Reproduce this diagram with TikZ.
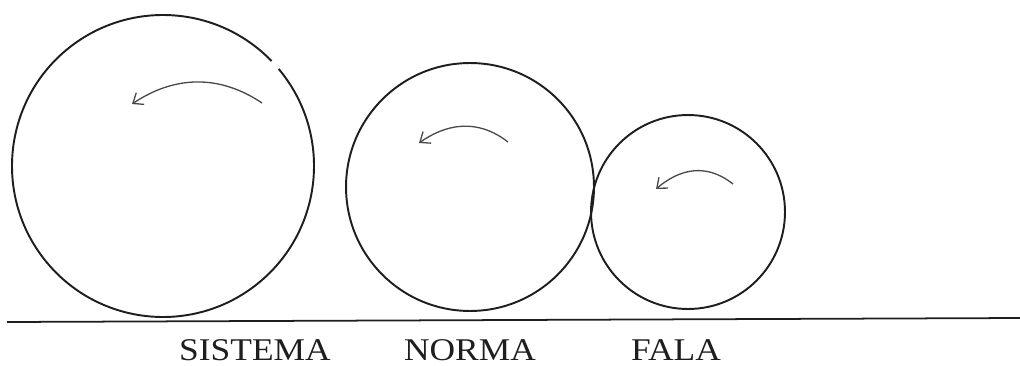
\documentclass[tikz,border=0pt]{standalone}
\usepackage{fontspec}
\setmainfont{Liberation Serif}
\usepackage{tikz}
\usetikzlibrary{positioning,arrows.meta}
\definecolor{inkGray}{HTML}{1E1E1E}
\definecolor{pencilGray}{HTML}{4A4A4A}

\begin{document}
\begin{tikzpicture}[
    x=0.02cm, y=-0.02cm,
    ringLine/.style={draw=inkGray, line width=1.1pt},
    ringNode/.style={circle, draw=inkGray, line width=1.1pt, inner sep=0pt},
    turnArrow/.style={-{Straight Barb[length=5pt, width=8pt]}, draw=pencilGray, line width=0.75pt},
    baseRule/.style={draw=inkGray, line width=1pt},
    labelFont/.style={font=\fontsize{18}{20}\selectfont, text=inkGray, xscale=1.12, anchor=base, inner sep=1pt}
]
    \useasboundingbox (0,0) rectangle (1020,365);

    % Sistema
    \coordinate (sistemaC) at (163,166);
    \draw[ringLine] (sistemaC) ++(-40:151) arc[start angle=-40, end angle=316, radius=151];
    \coordinate (sistemaA) at (262,103);
    \coordinate (sistemaB) at (132,104);
    \draw[turnArrow] (sistemaA) .. controls (225,78) and (180,72) .. (sistemaB);

    % Norma
    \node[ringNode, minimum size=4.96cm] (normaRing) at (470,187) {};
    \coordinate (normaA) at (508,142);
    \coordinate (normaB) at (419,143);
    \draw[turnArrow] (normaA) .. controls (485,124) and (455,118) .. (normaB);

    % Fala
    \node[ringNode, minimum size=3.88cm] (falaRing) at (688,212) {};
    \coordinate (falaA) at (733,184);
    \coordinate (falaB) at (656,189);
    \draw[turnArrow] (falaA) .. controls (714,169) and (688,162) .. (falaB);

    % Linha de base
    \coordinate (ruleL) at (7,322);
    \coordinate (ruleR) at (1020,318);
    \draw[baseRule] (ruleL) -- (ruleR);

    \node[labelFont] (sistemaLbl) at (255,360) {SISTEMA};
    \node[labelFont] (normaLbl) at (470,360) {NORMA};
    \node[labelFont] (falaLbl) at (676,360) {FALA};
\end{tikzpicture}
\end{document}
